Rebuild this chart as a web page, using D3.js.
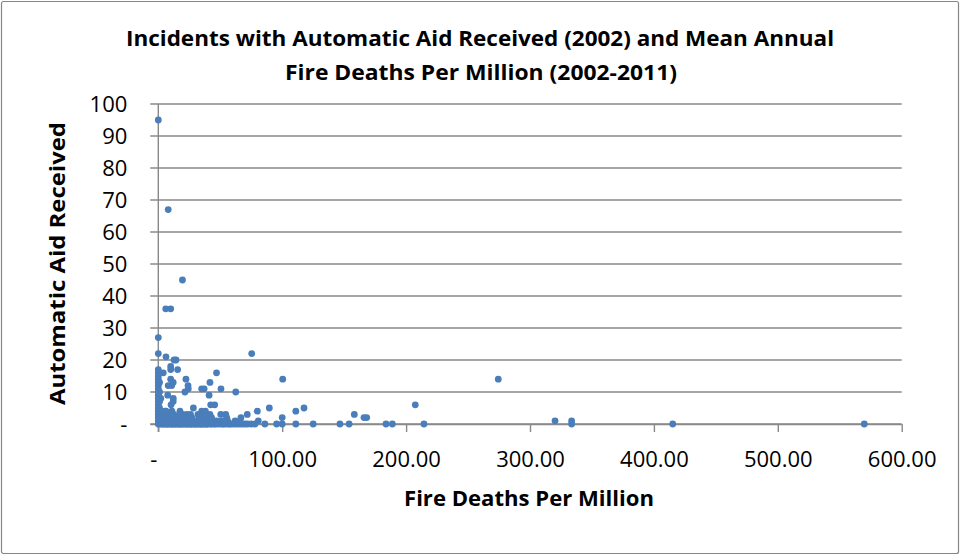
<!DOCTYPE html>
<html>
<head>
<meta charset="utf-8">
<script src="https://cdn.jsdelivr.net/npm/d3@7"></script>
<style>
  html, body { margin: 0; padding: 0; background: #fff; }
  svg { display: block; }
  text { font-family: "Open Sans", "Liberation Sans", sans-serif; fill: #000; }
</style>
</head>
<body>
<svg id="chart" width="961" height="556"></svg>
<script>
// ---- Data ----
const titleLines = ["Incidents with Automatic Aid Received (2002) and Mean Annual", "Fire Deaths Per Million (2002-2011)"];
const xTitle = "Fire Deaths Per Million";
const yTitle = "Automatic Aid Received";
const xTicks = [0, 100, 200, 300, 400, 500, 600];
const yTicks = [0, 10, 20, 30, 40, 50, 60, 70, 80, 90, 100];

// Fire deaths per million (x) and automatic aid received (y), one entry per point
const deathsPerMillion = [
  0,0,0,0,0,0,0,0,0,0,0,0,0,0,0,0,0,0,0,0,0,
  1,1,1,1,1,1,1,1.5,2,2,
  2,3,4,5,6.5,7,8,9,10.5,11,12,13,14,15,16.5,17,18,19,20,21,22.5,23,24,25.5,26,27,28,29.5,30,31,32,33.5,34,35,36,37,38.5,39,40,42,43,45,46,48,50,52,53,55,57,58,60,62,64,66,68,70,72,75,78,86,95.5,100,111,125,146.6,154,183.8,188.9,214.4,333.6,415.2,569.8,
  2.5,4,5.5,7.5,9,11.5,14,16,19,22,25,28,31,34,38,41,44,47,51,56,62,66,80.7,320.2,333.6,
  3,4.5,8,10.5,13,15.5,18,21,24,27,33,37,40,43,55.2,66.7,100,166,168.2,
  3.5,6,9,12.5,17.5,19.7,23,26,32,36.3,41.7,50.4,54.4,71.8,158.2,
  5.4,6.2,11,17.5,35,38,79.9,111,
  28.3,89.6,117.6,
  10.3,42.3,45.5,207.4,
  12,
  12.1,
  7.6,41,
  21.5,62.5,
  24.2,35,37,50.6,
  8,10.8,24,
  12,41.7,
  10,22.3,100.4,274.4,
  4,47,
  10,15.6,
  10,
  12.7,14.3,
  6.2,
  75.4,
  6,10,
  19.5,
  8
];
const aidReceived = [
  0,1,2,3,4,5,6,7,8,9,10,11,12,13,14,15,16,17,22,27,95,
  1,3,5,7,10,13,16,2,4,8,
  0,0,0,0,0,0,0,0,0,0,0,0,0,0,0,0,0,0,0,0,0,0,0,0,0,0,0,0,0,0,0,0,0,0,0,0,0,0,0,0,0,0,0,0,0,0,0,0,0,0,0,0,0,0,0,0,0,0,0,0,0,0,0,0,0,0,0,0,0,0,0,0,
  1,1,1,1,1,1,1,1,1,1,1,1,1,1,1,1,1,1,1,1,1,1,1,1,1,
  2,2,2,2,2,2,2,2,2,2,2,2,2,2,2,2,2,2,2,
  3,3,3,3,3,3,3,3,3,3,3,3,3,3,3,
  4,4,4,4,4,4,4,4,
  5,5,5,
  6,6,6,6,
  7,
  8,
  9,9,
  10,10,
  11,11,11,11,
  12,12,12,
  13,13,
  14,14,14,14,
  16,16,
  17,17,
  18,
  20,20,
  21,
  22,
  36,36,
  45,
  67
];

// ---- Chart ----
const svg = d3.select("#chart");
const W = 961, H = 556;
const plot = { left: 158.3, right: 901.7, top: 104, bottom: 424 };
const gridColor = "#898989";

svg.append("rect")
  .attr("x", 1.5).attr("y", 1.5).attr("width", W - 4).attr("height", H - 4)
  .attr("rx", 2)
  .attr("fill", "#fff").attr("stroke", "#868686").attr("stroke-width", 1.2);

const x = d3.scaleLinear().domain([0, 600]).range([plot.left, plot.right]);
const y = d3.scaleLinear().domain([0, 100]).range([plot.bottom, plot.top]);

// Horizontal gridlines (extending left of the axis as tick marks)
svg.append("g").selectAll("line").data(yTicks).join("line")
  .attr("x1", plot.left - 8).attr("x2", plot.right)
  .attr("y1", d => y(d)).attr("y2", d => y(d))
  .attr("stroke", gridColor).attr("stroke-width", 1.4);

// Y axis
const yAxis = svg.append("g")
  .attr("transform", `translate(${plot.left},0)`)
  .call(d3.axisLeft(y).tickValues(yTicks).tickSize(0).tickPadding(31)
    .tickFormat(d => d === 0 ? "-" : String(d)));
yAxis.select(".domain").remove();
yAxis.append("line")
  .attr("x1", 0).attr("x2", 0).attr("y1", plot.top).attr("y2", plot.bottom + 8)
  .attr("stroke", gridColor).attr("stroke-width", 1.4);
yAxis.selectAll("text")
  .attr("dy", "0.36em")
  .style("font-size", "22px").style("font-family", "'Open Sans', sans-serif");

// X axis
const xAxis = svg.append("g")
  .attr("transform", `translate(0,${plot.bottom})`)
  .call(d3.axisBottom(x).tickValues(xTicks).tickSize(8)
    .tickFormat(d => d === 0 ? "-" : d.toFixed(2)));
xAxis.select(".domain").attr("stroke", gridColor).attr("stroke-width", 1.4)
  .attr("d", `M${plot.left - 8},0.5H${plot.right}`);
xAxis.selectAll(".tick line").attr("stroke", gridColor).attr("stroke-width", 1.4);
xAxis.selectAll("text")
  .attr("y", 43).attr("dy", 0)
  .style("font-size", "22px").style("font-family", "'Open Sans', sans-serif");
xAxis.selectAll(".tick").filter(d => d === 0).select("text").attr("x", -5);

// Points
svg.append("g").selectAll("circle")
  .data(deathsPerMillion.map((d, i) => [d, aidReceived[i]]))
  .join("circle")
  .attr("cx", d => x(d[0]))
  .attr("cy", d => y(d[1]))
  .attr("r", 3.4)
  .attr("fill", "#4A7EBB");

// Titles
const title = svg.append("g").attr("font-weight", "bold").attr("font-size", "21.5px");
title.append("text").attr("x", 480).attr("y", 46).attr("text-anchor", "middle")
  .attr("textLength", 708).attr("lengthAdjust", "spacingAndGlyphs").text(titleLines[0]);
title.append("text").attr("x", 481).attr("y", 80).attr("text-anchor", "middle")
  .attr("textLength", 392).attr("lengthAdjust", "spacingAndGlyphs").text(titleLines[1]);

svg.append("text")
  .attr("x", 529).attr("y", 506).attr("text-anchor", "middle")
  .attr("font-weight", "bold").attr("font-size", "20.5px")
  .attr("textLength", 250).attr("lengthAdjust", "spacingAndGlyphs")
  .text(xTitle);

svg.append("text")
  .attr("transform", "translate(65,263.5) rotate(-90)")
  .attr("text-anchor", "middle")
  .attr("font-weight", "bold").attr("font-size", "20.5px")
  .attr("textLength", 283).attr("lengthAdjust", "spacingAndGlyphs")
  .text(yTitle);
</script>
</body>
</html>
